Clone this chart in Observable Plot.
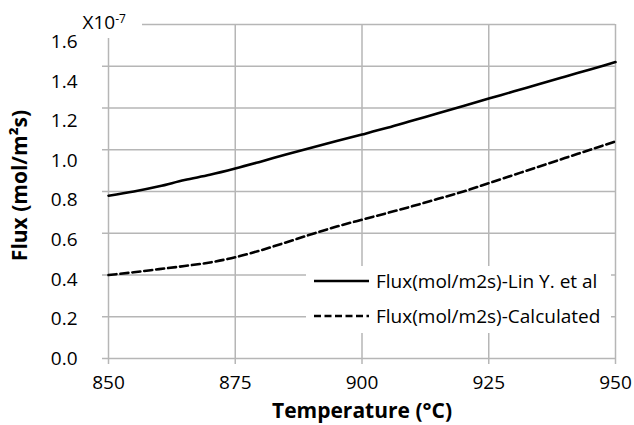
<!DOCTYPE html>
<html>
<head>
<meta charset="utf-8">
<script src="https://cdn.jsdelivr.net/npm/d3@7"></script>
<script src="https://cdn.jsdelivr.net/npm/@observablehq/plot@0.6"></script>
<style>
  body { margin: 0; background: white; }
  #wrap { position: relative; width: 634px; height: 425px; font-family: "Open Sans", sans-serif; color: #000; }
  #wrap svg { display: block; }
  .ov { position: absolute; background: white; }
  .leg-row { position: absolute; height: 20px; display: flex; align-items: center; font-size: 19px; white-space: nowrap; }
</style>
</head>
<body>
<div id="wrap"></div>
<script>
// ---- data (flux in units of 1e-7 mol/m²s) ----
const temps    = [850, 855, 860, 865, 870, 875, 880, 885, 890, 895, 900, 905, 910, 915, 920, 925, 930, 935, 940, 945, 950];
const fluxLin  = [0.78, 0.80, 0.825, 0.855, 0.88, 0.91, 0.943, 0.977, 1.01, 1.042, 1.073, 1.105, 1.14, 1.175, 1.21, 1.245, 1.28, 1.315, 1.35, 1.385, 1.42];
const fluxCalc = [0.40, 0.413, 0.428, 0.443, 0.46, 0.485, 0.518, 0.556, 0.595, 0.632, 0.665, 0.697, 0.73, 0.765, 0.80, 0.84, 0.88, 0.92, 0.96, 1.0, 1.04];
const seriesNames = ["Flux(mol/m2s)-Lin Y. et al", "Flux(mol/m2s)-Calculated"];
const xTicks = [850, 875, 900, 925, 950];
const yTicks = [0, 0.2, 0.4, 0.6, 0.8, 1.0, 1.2, 1.4, 1.6];
const xTitle = "Temperature (°C)";
const yTitle = "Flux (mol/m²s)";

const lin  = temps.map((t, i) => ({t, v: fluxLin[i]}));
const calc = temps.map((t, i) => ({t, v: fluxCalc[i]}));

const grid = "#b6b6b6";
const chart = Plot.plot({
  width: 634,
  height: 425,
  marginLeft: 108,
  marginRight: 19,
  marginTop: 24,
  marginBottom: 67,
  style: {fontFamily: "Open Sans, sans-serif", fontSize: "19px", color: "#000", background: "white"},
  x: {domain: [850, 950]},
  y: {domain: [0, 1.6]},
  marks: [
    Plot.gridX(xTicks, {stroke: grid, strokeOpacity: 1, strokeWidth: 1.5}),
    Plot.gridY(yTicks, {stroke: grid, strokeOpacity: 1, strokeWidth: 1.5}),
    Plot.axisX(xTicks, {tickSize: 6, stroke: grid, strokeWidth: 1.5, fill: "#000", fontSize: 19, tickPadding: 11, label: null, tickFormat: d => String(d)}),
    Plot.axisY(yTicks, {tickSize: 6, stroke: grid, strokeWidth: 1.5, fill: "#000", fontSize: 19, tickPadding: 25, label: null, tickFormat: d3.format(".1f")}),
    Plot.line(lin, {x: "t", y: "v", stroke: "#000", strokeWidth: 2.6, curve: "monotone-x"}),
    Plot.line(calc, {x: "t", y: "v", stroke: "#000", strokeWidth: 2.6, strokeDasharray: "8,4", curve: "monotone-x"}),
    Plot.text([yTitle], {frameAnchor: "left", textAnchor: "middle", lineAnchor: "middle", dx: -88, dy: -6, rotate: -90, fontWeight: "bold", fontSize: 21, fill: "#000"}),
    Plot.text([xTitle], {frameAnchor: "bottom", textAnchor: "middle", lineAnchor: "middle", dy: 53, fontWeight: "bold", fontSize: 21, fill: "#000"})
  ]
});

const wrap = document.getElementById("wrap");
wrap.appendChild(chart);

// slight compression of y tick label positions toward the baseline, as in the source figure
const ys = chart.scale("y");
const base = ys.apply(0);
d3.select(chart).selectAll('g[aria-label="y-axis tick label"] text').each(function() {
  const tr = this.getAttribute("transform");
  const m = tr && tr.match(/translate\(([-\d.]+),\s*([-\d.]+)\)/);
  if (m) {
    const x = +m[1], y = +m[2];
    const ny = base - (base - y) * 0.947;
    this.setAttribute("transform", tr.replace(m[0], `translate(${x},${ny})`));
  }
});

// multiplier label at top-left
const mult = document.createElement("div");
mult.className = "ov";
mult.style.cssText += "left:80px;top:6px;width:62px;height:32px;";
mult.innerHTML = "<span style='position:absolute;left:2.5px;top:0;font-size:19px;line-height:32px'>X10<span style='font-size:12px;position:relative;top:-6px'>-7</span></span>";
wrap.appendChild(mult);

// legend
const leg = document.createElement("div");
leg.className = "ov";
leg.style.cssText += "left:306px;top:266px;width:305px;height:67px;";
const dashes = ["", "7,3.5"];
seriesNames.forEach((name, i) => {
  const row = document.createElement("div");
  row.className = "leg-row";
  row.style.top = (5 + i * 35) + "px";
  row.style.left = "8px";
  row.innerHTML = `<svg width="55" height="20" style="margin-right:7px"><line x1="0" x2="55" y1="10" y2="10" stroke="#000" stroke-width="2.6" ${dashes[i] ? `stroke-dasharray="${dashes[i]}"` : ""}/></svg><span>${name}</span>`;
  leg.appendChild(row);
});
wrap.appendChild(leg);
</script>
</body>
</html>
